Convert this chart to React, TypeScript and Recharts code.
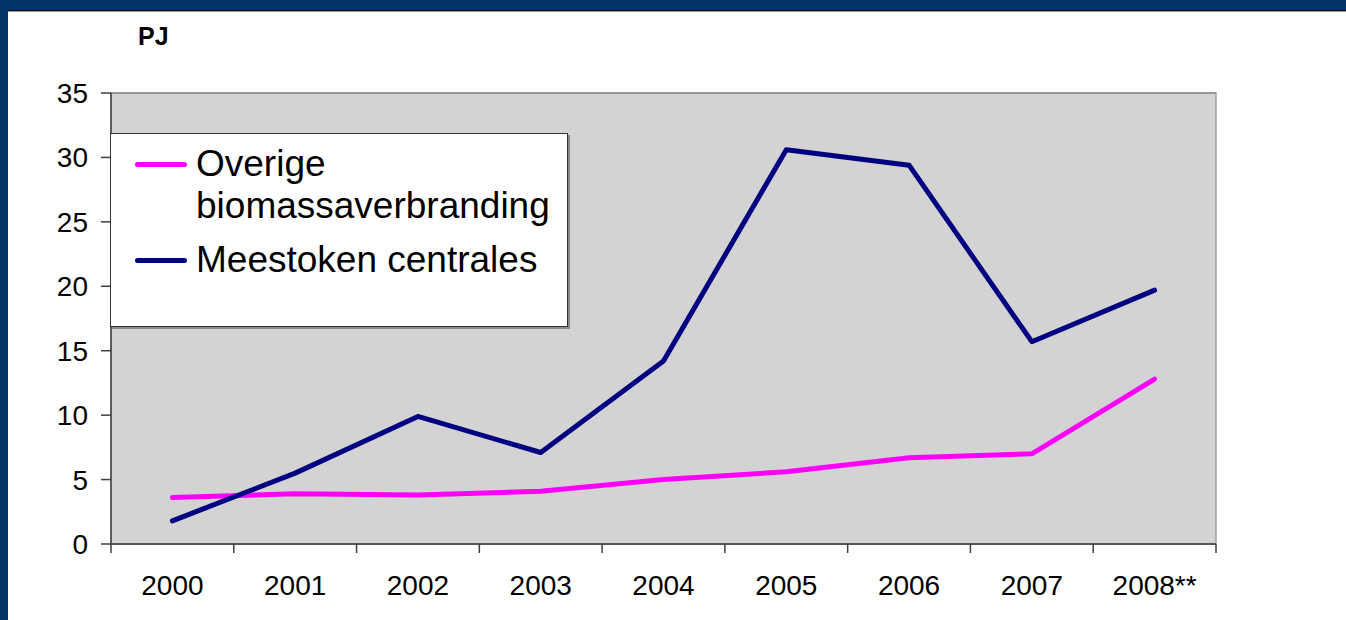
import { LineChart, Line, XAxis, YAxis, CartesianGrid, ReferenceArea, Legend } from "recharts";

const years = ["2000", "2001", "2002", "2003", "2004", "2005", "2006", "2007", "2008**"];
const overige = [3.6, 3.9, 3.8, 4.1, 5.0, 5.6, 6.7, 7.0, 12.8];
const meestoken = [1.8, 5.5, 9.9, 7.1, 14.2, 30.6, 29.4, 15.7, 19.7];
const seriesNames = ["Overige biomassaverbranding", "Meestoken centrales"];
const yTicks = [0, 5, 10, 15, 20, 25, 30, 35];
const boundaryTicks = [0, 1, 2, 3, 4, 5, 6, 7, 8, 9];
const labelTicks = [0.5, 1.5, 2.5, 3.5, 4.5, 5.5, 6.5, 7.5, 8.5];

const data = years.map((year, i) => ({
  pos: i + 0.5,
  year,
  overige: overige[i],
  meestoken: meestoken[i],
}));

const font = "'Liberation Sans', Arial, sans-serif";

const LegendBox = ({ payload }: any) => {
  const items = [...(payload || [])].sort(
    (a: any, b: any) => seriesNames.indexOf(a.value) - seriesNames.indexOf(b.value)
  );
  return (
    <div
      style={{
        width: 458,
        height: 194,
        background: "#fff",
        border: "1px solid #333",
        boxShadow: "2px 2px 0 #8a8a8a",
        fontFamily: font,
        fontSize: 37,
        lineHeight: "42px",
        color: "#000",
        paddingTop: 9,
        boxSizing: "border-box",
      }}
    >
      {items.map((p: any) => (
        <div key={p.value} style={{ display: "flex", alignItems: "flex-start", marginBottom: 12 }}>
          <div
            style={{
              width: 52,
              height: 5,
              borderRadius: 3,
              background: p.color,
              marginLeft: 24,
              marginRight: 9,
              marginTop: 19,
              flexShrink: 0,
            }}
          />
          <div style={{ width: 370 }}>{p.value}</div>
        </div>
      ))}
    </div>
  );
};

export default function App() {
  return (
    <div style={{ position: "fixed", left: 0, top: 0, width: 1346, height: 620, background: "#fff", overflow: "hidden" }}>
      <div style={{ position: "absolute", left: 0, top: 0, width: 1346, height: 10, background: "#003366", borderBottom: "1px solid #111", boxShadow: "0 1px 0 #999" }} />
      <div style={{ position: "absolute", left: 0, top: 0, width: 8, height: 620, background: "#003366" }} />
      <div style={{ position: "absolute", left: 138, top: 22, fontFamily: font, fontWeight: "bold", fontSize: 25 }}>PJ</div>
      <div style={{ position: "absolute", left: 0, top: 0 }}>
        <LineChart width={1346} height={620} data={data} margin={{ top: 93, right: 130, bottom: 16, left: 0 }}>
          <CartesianGrid vertical={false} stroke="#000" strokeWidth={1} fill="#D3D3D3" fillOpacity={1} />
          <ReferenceArea yAxisId="y" xAxisId="a" y1={0} y2={35} fill="none" stroke="#a0a0a0" strokeWidth={1.5} />
          <XAxis
            xAxisId="a"
            dataKey="pos"
            type="number"
            domain={[0, 9]}
            ticks={boundaryTicks}
            tickFormatter={() => ""}
            tickSize={9}
            axisLine={{ stroke: "#404040", strokeWidth: 1.5 }}
            tickLine={{ stroke: "#404040", strokeWidth: 1.5 }}
            height={14}
            allowDataOverflow
          />
          <XAxis
            xAxisId="b"
            dataKey="pos"
            type="number"
            domain={[0, 9]}
            ticks={labelTicks}
            tickFormatter={(v: number) => years[Math.floor(v)]}
            axisLine={false}
            tickLine={false}
            tickMargin={11}
            height={46}
            tick={{ fontSize: 28, fill: "#000", fontFamily: font }}
          />
          <YAxis
            yAxisId="y"
            domain={[0, 35]}
            ticks={yTicks}
            width={111}
            tickSize={10}
            tickMargin={13}
            axisLine={{ stroke: "#404040", strokeWidth: 1.5 }}
            tickLine={{ stroke: "#404040", strokeWidth: 1.5 }}
            tick={{ fontSize: 28, fill: "#000", fontFamily: font }}
            allowDataOverflow
          />
          <Legend
            layout="vertical"
            align="center"
            verticalAlign="middle"
            wrapperStyle={{ left: 110, top: 133, width: 460 }}
            content={<LegendBox />}
          />
          <Line
            xAxisId="a"
            yAxisId="y"
            dataKey="overige"
            name={seriesNames[0]}
            stroke="#FF00FF"
            strokeWidth={5}
            strokeLinecap="round"
            strokeLinejoin="round"
            dot={false}
            activeDot={false}
            isAnimationActive={false}
          />
          <Line
            xAxisId="a"
            yAxisId="y"
            dataKey="meestoken"
            name={seriesNames[1]}
            stroke="#000080"
            strokeWidth={5}
            strokeLinecap="round"
            strokeLinejoin="round"
            dot={false}
            activeDot={false}
            isAnimationActive={false}
          />
        </LineChart>
      </div>
    </div>
  );
}
